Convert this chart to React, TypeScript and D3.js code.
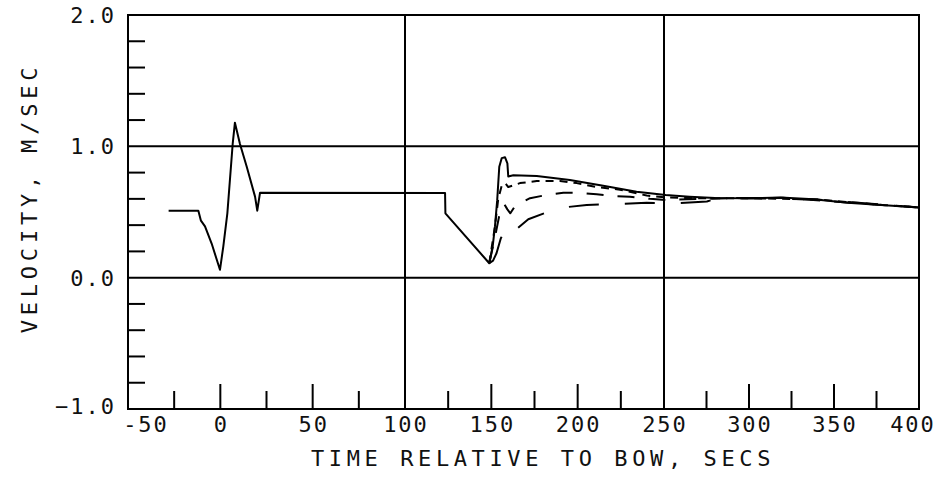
import React from "react";
import * as d3 from "d3";

// ---- data ----
const solidTime = [-28, -11.9, -10.5, -8.3, -4.7, -0.2, 1.6, 3.8, 6.7, 7.9, 10.6, 14.3, 18.8, 20, 21.5, 123.2, 123.4, 148.8, 150.8, 152.1, 153.4, 154.6, 156, 157.9, 159.3, 159.8, 162.7, 176.3, 195.5, 214.8, 234.1, 251, 265, 280, 299, 318.5, 338, 358, 377.6, 400];
const solidVel = [0.51, 0.51, 0.434, 0.39, 0.26, 0.06, 0.236, 0.49, 1.02, 1.18, 1.02, 0.845, 0.617, 0.51, 0.647, 0.645, 0.49, 0.11, 0.24, 0.39, 0.59, 0.845, 0.91, 0.917, 0.87, 0.77, 0.78, 0.775, 0.744, 0.70, 0.655, 0.63, 0.617, 0.607, 0.605, 0.61, 0.597, 0.57, 0.553, 0.535];

const shortDashTime = [148.8, 152.1, 154, 156, 158, 159.8, 166.6, 176.3, 189.8, 199.4, 211, 224.5, 240, 252, 270, 300, 340, 380, 400];
const shortDashVel = [0.11, 0.39, 0.6, 0.7, 0.72, 0.69, 0.72, 0.736, 0.736, 0.72, 0.69, 0.67, 0.625, 0.61, 0.605, 0.605, 0.595, 0.552, 0.535];

const midDashTime = [148.8, 152, 155, 157.5, 159.3, 161, 163.7, 172.4, 182, 191.7, 202.3, 211, 222.6, 230.3, 241.9, 251.6, 263.4, 290, 320, 360, 400];
const midDashVel = [0.11, 0.3, 0.5, 0.56, 0.52, 0.49, 0.545, 0.605, 0.63, 0.647, 0.645, 0.635, 0.62, 0.617, 0.6, 0.59, 0.597, 0.605, 0.608, 0.57, 0.535];

const longDashTime = [148.8, 151, 153, 155.5, 157.9, 159.3, 171.4, 188.8, 205.2, 222.6, 240, 258.4, 275.2, 283, 300, 340, 400];
const longDashVel = [0.11, 0.13, 0.186, 0.3, 0.35, 0.31, 0.445, 0.53, 0.554, 0.56, 0.57, 0.567, 0.58, 0.61, 0.605, 0.595, 0.535];

const xTickValues = [-25, 0, 25, 50, 75, 125, 150, 175, 200, 225, 275, 300, 325, 350, 375];
const xLabelValues = [-50, 0, 50, 100, 150, 200, 250, 300, 350, 400];
const xGridValues = [100, 250];
const yTickValues = [-0.8, -0.6, -0.4, -0.2, 0.2, 0.4, 0.6, 0.8, 1.2, 1.4, 1.6, 1.8];
const yLabelValues = [2, 1, 0, -1];
const yGridValues = [1, 0];

const xTitle = "TIME RELATIVE TO BOW, SECS";
const yTitle = "VELOCITY, M/SEC";

const W = 943;
const H = 483;

export default function App() {
  // scanned plot axis is slightly non-uniform; piecewise linear scale follows the gridlines
  const x = d3.scaleLinear().domain([-50, 100, 250, 400]).range([128, 405, 664, 919]);
  const y = d3.scaleLinear().domain([-1, 2]).range([409, 15]);

  const line = d3
    .line<[number, number]>()
    .x((d) => x(d[0]))
    .y((d) => y(d[1]));

  const zip = (t: number[], v: number[]) => t.map((tt, i) => [tt, v[i]] as [number, number]);

  const [x0, x1] = [x(-50), x(400)];
  const [yb, yt] = [y(-1), y(2)];
  const font = "'DejaVu Sans Mono', monospace";
  const fmt = (v: number) => d3.format(".1f")(v);
  const labelShift = (v: number) => (v === -50 ? 18 : v === 400 ? -6 : 1);

  return (
    <svg width={W} height={H} style={{ display: "block", position: "absolute", left: 0, top: 0, background: "#fff" }}>
      <g stroke="#000" strokeWidth={2} fill="none" strokeLinecap="square">
        <rect x={x0} y={yt} width={x1 - x0} height={yb - yt} />
        {yGridValues.map((v) => (
          <line key={"yg" + v} x1={x0} x2={x1} y1={y(v)} y2={y(v)} />
        ))}
        {xGridValues.map((v) => (
          <line key={"xg" + v} x1={x(v)} x2={x(v)} y1={yt} y2={yb} />
        ))}
        {yTickValues.map((v) => (
          <line key={"yt" + v} x1={x0} x2={x0 + 16} y1={y(v)} y2={y(v)} />
        ))}
        {xTickValues.map((v) => (
          <line key={"xt" + v} x1={x(v)} x2={x(v)} y1={yb} y2={yb - (v % 50 === 0 ? 24 : 17)} />
        ))}
      </g>

      <g fill="none" stroke="#000" strokeWidth={2} strokeLinejoin="round">
        <path d={line(zip(solidTime, solidVel)) || ""} />
        <path d={line(zip(shortDashTime, shortDashVel)) || ""} strokeDasharray="8 6" />
        <path d={line(zip(midDashTime, midDashVel)) || ""} strokeDasharray="17 14" />
        <path d={line(zip(longDashTime, longDashVel)) || ""} strokeDasharray="30 26" />
      </g>

      <g fontFamily={font} fontSize={22} fill="#111">
        {yLabelValues.map((v) => (
          <text key={"yl" + v} x={116} y={y(v) + (v === -1 ? 5 : 8)} textAnchor="end" style={{ letterSpacing: "2px" }}>
            {fmt(v)}
          </text>
        ))}
        {xLabelValues.map((v) => (
          <text key={"xl" + v} x={x(v) + labelShift(v)} y={432} textAnchor="middle" style={{ letterSpacing: "2px" }}>
            {String(v)}
          </text>
        ))}
        <text x={543} y={466} textAnchor="middle" style={{ letterSpacing: "4.6px" }}>
          {xTitle}
        </text>
        <text transform={`translate(37,198) rotate(-90)`} textAnchor="middle" style={{ letterSpacing: "4.8px" }}>
          {yTitle}
        </text>
      </g>
    </svg>
  );
}
